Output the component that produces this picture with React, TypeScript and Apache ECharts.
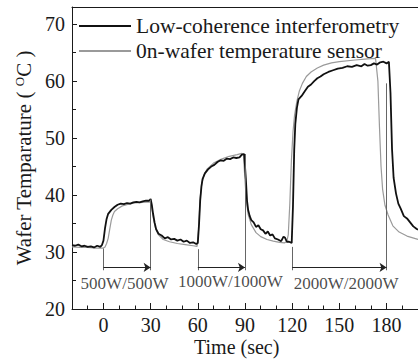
import React, { useEffect, useRef } from "react";
import * as echarts from "echarts";

// Low-coherence interferometry wafer temperature (sec, degC)
const lciTime = [
  -20, -18, -16, -14, -12, -10, -8, -6, -4, -2, -1, 0, 1, 2, 3, 5, 7, 9, 11, 13, 15, 17, 19, 21, 23, 25, 27, 29, 30,
  30.8, 31.5, 32.5, 33.5, 35, 37, 39, 41, 43, 45, 47, 49, 51, 53, 55, 57, 59, 60,
  60.8, 61.5, 62.3, 63, 64.5, 66.5, 68.5, 70.5, 72.5, 74.5, 76.5, 78.5, 80.5, 82.5, 84.5, 86.5, 88, 89.5,
  90.5, 91.3, 92, 93, 94, 95.5, 97, 98.5, 100, 101.5, 103, 104.5, 106, 107.5, 109, 111, 113, 114.5, 115.5, 116.6, 118, 119.7,
  120.5, 121.3, 122, 123, 124, 126, 128, 130, 132, 134, 136, 138, 140, 143, 146, 149, 152, 155, 158, 161, 164, 166, 168, 170,
  172, 174, 176, 178, 180, 181.5,
  182.5, 183.5, 184.5, 186, 187.5, 189, 191, 193, 195, 197, 199, 200,
];
const lciTemp = [
  31.2, 31.1, 31.3, 31.0, 31.1, 30.9, 31.0, 30.8, 31.1, 30.9, 31.2, 32.0, 34.2, 35.8, 36.7, 37.4, 37.9, 38.3, 38.5, 38.4, 38.6, 38.5, 38.7, 38.8, 38.7, 38.9, 39.0, 39.0, 39.3,
  38.2, 36.8, 35.2, 34.0, 33.2, 32.9, 32.4, 32.6, 32.2, 32.3, 32.0, 32.2, 31.8, 32.0, 31.6, 31.7, 31.4, 31.6,
  35.0, 39.0, 41.5, 42.8, 43.8, 44.5, 45.0, 45.3, 45.8, 46.1, 46.0, 46.4, 46.3, 46.6, 46.5, 46.6, 47.1, 47.2,
  43.0, 39.0, 37.4, 36.3, 35.6, 35.2, 34.4, 34.7, 34.0, 33.8, 33.2, 33.6, 32.9, 33.1, 32.4, 32.2, 31.9, 32.7, 32.5, 31.8, 31.8, 31.6,
  38.0, 48.0, 52.5, 55.3, 56.8, 57.4, 58.2, 59.0, 59.4, 60.0, 60.5, 60.8, 61.2, 61.6, 61.9, 62.2, 62.3, 62.6, 62.5, 62.8, 62.6, 63.0, 62.7, 62.8,
  63.1, 62.9, 63.3, 63.4, 63.1, 63.4,
  58.0, 48.0, 43.0, 40.3, 38.5, 37.6, 36.3, 35.9, 35.2, 34.5, 34.1, 33.9,
];

// On-wafer temperature sensor reading (sec, degC)
const sensorTime = [
  -20, -15, -10, -5, 0, 1, 2, 3, 4, 5, 6, 7, 9, 12, 16, 20, 25, 30,
  31, 32, 33, 35, 38, 42, 47, 52, 57, 59.5,
  60.5, 61.5, 62.5, 64, 66, 70, 75, 80, 85, 88, 89,
  90, 91, 92, 94, 97, 100, 104, 108, 112, 115, 116.5,
  117.5, 118.5, 119.5, 120.5, 121.5, 123, 124.5, 126.5, 129, 132, 136, 140, 145, 150, 160, 168, 173,
  174.5, 175.5, 176.5, 177.5, 179, 181, 184, 188, 193, 200,
];
const sensorTemp = [
  30.9, 30.8, 30.8, 30.7, 30.7, 30.9, 31.5, 32.4, 34.0, 35.6, 36.5, 37.1, 37.6, 38.1, 38.4, 38.6, 38.7, 38.8,
  37.2, 35.5, 34.3, 33.0, 32.2, 31.8, 31.5, 31.3, 31.1, 31.0,
  34.0, 39.5, 42.0, 43.6, 44.6, 45.6, 46.3, 46.8, 47.1, 47.3, 47.2,
  42.5, 38.6, 36.6, 34.8, 33.4, 32.7, 32.2, 31.9, 31.7, 31.6, 31.8,
  33.0, 38.5, 46.0, 51.0, 54.0, 56.5, 58.2, 59.6, 60.8, 61.6, 62.3, 62.8, 63.2, 63.4, 63.7, 63.9, 64.0,
  60.0, 52.0, 45.0, 41.0, 38.2, 36.5, 34.6, 33.5, 32.8, 32.2,
];

// Plasma power steps: switch-on / switch-off marks and the span arrows
const markerTimes = [0, 30, 60, 90, 120, 180];
const markerTops = [30.6, 39.2, 30.5, 47.2, 30.9, 59.6];
const markerBottom = 26.8;
const spanStarts = [0, 60, 120];
const spanEnds = [30, 90, 180];
const spanLevel = 27.3;
const powerLabels = ["500W/500W", "1000W/1000W", "2000W/2000W"];
const labelTimes = [13.4, 80.7, 154.3];
const labelLevels = [24.5, 24.9, 24.5];

// Axis ticks
const xMajorTicks = [0, 30, 60, 90, 120, 150, 180];
const xMinorTicks = [-10, 10, 20, 40, 50, 70, 80, 100, 110, 130, 140, 160, 170, 190];
const yMajorTicks = [20, 30, 40, 50, 60, 70];
const yMinorTicks = [25, 35, 45, 55, 65];

const LCI_NAME = "Low-coherence interferometry";
const SENSOR_NAME = "0n-wafer temperature sensor";
const FONT = "Liberation Serif";
const INK = "#1a1a1a";

export default function App() {
  const ref = useRef<HTMLDivElement>(null);

  useEffect(() => {
    if (!ref.current) return;
    const chart = echarts.init(ref.current, undefined, { renderer: "svg" });

    const lciData = lciTime.map((t, i) => [t, lciTemp[i]]);
    const sensorData = sensorTime.map((t, i) => [t, sensorTemp[i]]);
    const markerLines = markerTimes.map((t, i) => ({
      coords: [
        [t, markerTops[i]],
        [t, markerBottom],
      ],
    }));
    const spanLines = spanStarts.map((t, i) => ({
      coords: [
        [t, spanLevel],
        [spanEnds[i], spanLevel],
      ],
    }));
    const labelData = powerLabels.map((name, i) => ({
      name,
      value: [labelTimes[i], labelLevels[i]],
    }));

    const axisLineStyle = { color: INK, width: 1 };
    const xBase = { type: "value", min: -20, max: 200, splitLine: { show: false } };
    const yBase = { type: "value", min: 20, max: 73, splitLine: { show: false } };

    chart.setOption({
      animation: false,
      textStyle: { fontFamily: FONT, color: INK },
      grid: { left: 72, top: 7, right: 0, bottom: 51, containLabel: false, outerBoundsMode: "none" },
      legend: {
        data: [LCI_NAME, SENSOR_NAME],
        orient: "vertical",
        left: 73,
        top: 10,
        itemWidth: 52,
        itemHeight: 14,
        itemGap: 3,
        itemStyle: { opacity: 0 },
        textStyle: { fontFamily: FONT, fontSize: 21.5, color: INK },
      },
      xAxis: [
        {
          ...xBase,
          position: "bottom",
          axisLine: { show: true, onZero: false, lineStyle: axisLineStyle },
          axisTick: { show: true, inside: true, length: 6, customValues: xMajorTicks, lineStyle: axisLineStyle },
          axisLabel: { customValues: xMajorTicks, fontSize: 20, margin: 6, color: INK, fontFamily: FONT },
        },
        {
          ...xBase,
          position: "bottom",
          axisLine: { show: false, onZero: false },
          axisTick: { show: true, inside: true, length: 3.5, customValues: xMinorTicks, lineStyle: axisLineStyle },
          axisLabel: { show: false },
        },
        {
          ...xBase,
          position: "top",
          axisLine: { show: true, onZero: false, lineStyle: axisLineStyle },
          axisTick: { show: false },
          axisLabel: { show: false },
        },
      ],
      yAxis: [
        {
          ...yBase,
          position: "left",
          axisLine: { show: true, onZero: false, lineStyle: axisLineStyle },
          axisTick: { show: true, inside: true, length: 5, customValues: yMajorTicks, lineStyle: axisLineStyle },
          axisLabel: { customValues: yMajorTicks, fontSize: 20, margin: 7, color: INK, fontFamily: FONT },
          name: "{t|Wafer Temparature ( }{s|O}{t|C )}",
          nameLocation: "middle",
          nameRotate: 90,
          nameGap: 37,
          nameTextStyle: {
            fontFamily: FONT,
            fontSize: 21,
            color: INK,
            rich: {
              t: { fontFamily: FONT, fontSize: 21, color: INK },
              s: { fontFamily: FONT, fontSize: 13, color: INK, verticalAlign: "top", padding: [0, 0, 8, 0] },
            },
          },
        },
        {
          ...yBase,
          position: "left",
          axisLine: { show: false, onZero: false },
          axisTick: { show: true, inside: true, length: 4, customValues: yMinorTicks, lineStyle: axisLineStyle },
          axisLabel: { show: false },
        },
      ],
      graphic: [
        {
          type: "text",
          left: 194,
          top: 337,
          style: {
            text: "Time (sec)",
            font: `20px "${FONT}"`,
            fill: INK,
          },
        },
      ],
      series: [
        {
          name: SENSOR_NAME,
          type: "line",
          data: sensorData,
          symbol: "none",
          lineStyle: { color: "#9a9a9a", width: 1.2 },
          itemStyle: { color: "#9a9a9a" },
          z: 2,
        },
        {
          name: LCI_NAME,
          type: "line",
          data: lciData,
          symbol: "none",
          lineStyle: { color: "#111111", width: 1.8 },
          itemStyle: { color: "#111111" },
          z: 3,
        },
        {
          name: "markers",
          type: "lines",
          coordinateSystem: "cartesian2d",
          data: markerLines,
          symbol: ["none", "none"],
          lineStyle: { color: "#666666", width: 1, opacity: 1 },
          z: 4,
          silent: true,
        },
        {
          name: "spans",
          type: "lines",
          coordinateSystem: "cartesian2d",
          data: spanLines,
          symbol: ["none", "arrow"],
          symbolSize: 7,
          lineStyle: { color: "#222222", width: 1, opacity: 1 },
          itemStyle: { color: "#222222" },
          z: 4,
          silent: true,
        },
        {
          name: "powers",
          type: "scatter",
          data: labelData,
          symbolSize: 0,
          label: {
            show: true,
            position: "inside",
            formatter: "{b}",
            fontFamily: FONT,
            fontSize: 17,
            color: INK,
          },
          z: 5,
          silent: true,
        },
      ],
    });

    return () => chart.dispose();
  }, []);

  return (
    <div
      ref={ref}
      style={{ position: "absolute", left: 0, top: 0, width: 418, height: 360, background: "#ffffff" }}
    />
  );
}
